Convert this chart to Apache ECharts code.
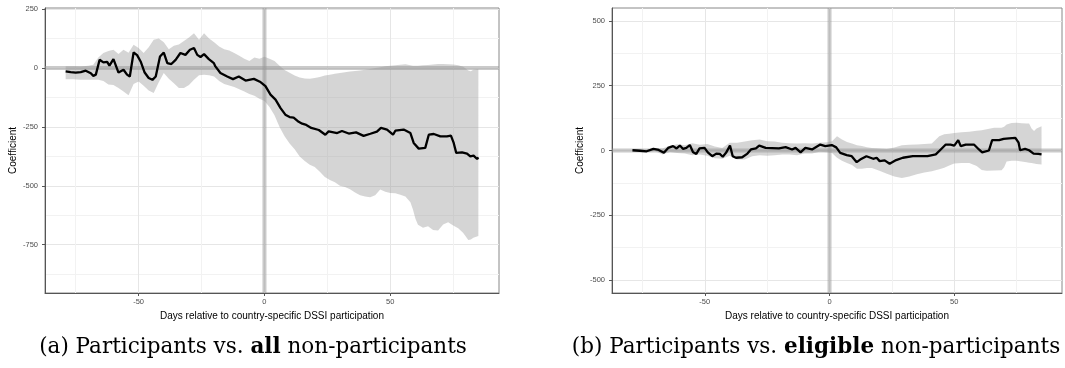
<!DOCTYPE html>
<html>
<head>
<meta charset="utf-8">
<script src="https://cdn.jsdelivr.net/npm/echarts@6/dist/echarts.min.js"></script>
<style>
  html, body { margin: 0; padding: 0; background: #fff; }
  #chart { width: 1065px; height: 368px; }
</style>
</head>
<body>
<div id="chart"></div>
<script>
// panel (a): participants vs all non-participants
const aLineDays = [-79, -77, -75, -73, -71, -69, -68, -67, -65.5, -64, -62.5, -61.6, -60, -58, -56, -54.6, -53.5, -52, -50.6, -49.2, -47.6, -46, -44.5, -43.2, -41.5, -40, -38.6, -37, -35.3, -33.4, -31.4, -29.6, -28, -26.7, -25.4, -24, -22.1, -20.1, -19.5, -17.5, -14.8, -12.5, -10.2, -7.5, -4.2, -1.8, 0.4, 2.4, 4.4, 6.4, 8.3, 10, 11.6, 13.6, 15, 16.3, 18.6, 21.6, 24.2, 25.5, 28.9, 30.8, 33.5, 36.4, 39.4, 42.1, 44.7, 46.3, 48.7, 51.1, 52, 55.3, 58, 59.3, 61.3, 63.9, 65.3, 67.3, 69.9, 72.5, 74.1, 75.2, 76.2, 78.5, 80.5, 81.8, 83.1, 84.5, 85];
const aLineVals = [-14, -17, -19, -17, -11, -22, -33, -28, 35, 24, 26, 10, 38, -19, -7, -28, -36, 66, 55, 28, -19, -42, -50, -36, 49, 66, 21, 17, 35, 64, 56, 78, 85, 56, 47, 59, 38, 21, 7, -21, -36, -47, -36, -53, -46, -58, -77, -113, -134, -170, -198, -208, -210, -228, -236, -240, -254, -263, -283, -269, -276, -267, -278, -273, -288, -279, -270, -254, -261, -283, -266, -261, -276, -318, -342, -339, -283, -280, -290, -290, -287, -318, -360, -358, -363, -375, -372, -386, -379];
const aBandDays = [-79, -76, -73, -70, -68, -66, -64, -62, -60, -58, -56, -54, -52, -50, -48, -46, -44, -42, -40, -38, -36, -34, -32, -30, -28, -26, -24, -22, -20, -18, -16, -14, -12, -10, -8, -6, -4, -2, 0, 2, 4, 6, 8, 10, 12, 14, 16, 18, 20, 22, 24, 26, 28, 30, 32, 34, 36, 38, 40, 42, 44, 46, 48, 50, 52, 54, 56, 58, 59, 60, 61, 63, 65, 67, 69, 71, 73, 75, 77, 79, 81, 82, 83, 85];
const aBandHigh = [8, 8, 7, 10, 14, 45, 64, 72, 78, 60, 78, 65, 99, 85, 64, 88, 120, 125, 110, 80, 95, 100, 115, 130, 148, 120, 148, 125, 110, 92, 80, 75, 64, 52, 40, 30, 45, 40, 48, 40, 30, 10, -8, -20, -32, -40, -44, -45, -42, -38, -32, -28, -24, -21, -18, -15, -13, -10, -7, -4, 0, 3, 8, 10, 12, 14, 16, 12, 10, 10, 10, 12, 13, 15, 17, 17, 16, 15, 12, 6, -10, -14, -7, -4];
const aBandLow = [-48, -48, -50, -50, -50, -50, -55, -70, -72, -85, -100, -115, -68, -57, -75, -95, -106, -60, -21, -45, -65, -85, -85, -72, -50, -30, -28, -30, -36, -55, -68, -74, -80, -90, -100, -110, -118, -130, -140, -165, -200, -250, -290, -320, -345, -375, -395, -410, -420, -440, -462, -475, -485, -500, -505, -515, -528, -540, -545, -548, -540, -516, -525, -530, -532, -538, -545, -570, -600, -640, -665, -678, -672, -688, -690, -664, -655, -668, -680, -700, -730, -728, -720, -713];

// panel (b): participants vs eligible non-participants
const bLineDays = [-79, -76, -73.3, -70.6, -68.5, -66.4, -64.7, -62.7, -61.3, -60, -58.7, -57.4, -56, -54.7, -53.4, -52.1, -50.1, -48.8, -47, -45.4, -44, -42.8, -41.5, -39.9, -38.8, -37.5, -35, -32.9, -31.5, -29.5, -28.2, -27, -25.6, -23, -20.3, -17.6, -15, -13.6, -11.6, -9.7, -7, -3.7, -1.7, 0.9, 2.7, 4.3, 6.9, 8.9, 10.9, 12.3, 14.8, 17.5, 18.9, 20.1, 22.1, 24.1, 26.7, 29.4, 33.4, 36.7, 39.3, 42.6, 44.6, 46.6, 48.5, 50, 51.6, 52.6, 54.6, 57.9, 59.9, 61.2, 63.9, 65.2, 68, 69.8, 72, 74.5, 75.8, 76.4, 78.4, 80, 81.8, 83.7, 85];
const bLineVals = [1, -1, -3, 6, 2, -9, 10, 17, 8, 19, 6, 10, 21, -7, -13, 8, 10, -7, -22, -12, -13, -24, -9, 19, -22, -28, -26, -12, 4, 8, 19, 15, 10, 9, 8, 13, 4, 10, -7, 10, 4, 23, 17, 21, 12, -9, -18, -22, -45, -35, -22, -32, -28, -41, -38, -51, -37, -28, -22, -22, -22, -15, 4, 23, 23, 19, 40, 17, 23, 23, 4, -7, 0, 40, 40, 45, 47, 49, 30, 1, 6, 1, -12, -13, -15];
const bBandDays = [-79, -76, -73, -70, -67, -64, -61, -58, -55, -52, -49, -46, -43, -40, -37, -34, -31, -28, -25, -22, -19, -16, -13, -10, -7, -4, -1, 1, 3, 5, 7, 9, 11, 13, 15, 17, 20, 23, 26, 29, 32, 35, 38, 41, 44, 46, 48, 50, 53, 56, 59, 61, 63, 66, 69, 70, 71, 73, 75, 77, 79, 80, 81, 82, 83, 85];
const bBandHigh = [6, 4, 4, 10, 8, 18, 24, 20, 28, 22, 25, 15, 10, 30, 30, 35, 40, 42, 36, 35, 30, 28, 27, 28, 27, 30, 32, 36, 55, 42, 33, 27, 20, 17, 13, 10, 8, 6, 12, 20, 22, 23, 25, 27, 55, 63, 65, 68, 70, 72, 76, 78, 82, 88, 88, 92, 100, 106, 107, 105, 104, 104, 85, 75, 85, 94];
const bBandLow = [-4, -5, -6, -2, -15, -6, -10, -12, -18, -15, -20, -30, -32, -20, -35, -35, -22, -18, -20, -18, -15, -15, -18, -12, -12, -5, -7, -10, -28, -40, -48, -56, -70, -70, -68, -68, -78, -90, -100, -106, -100, -92, -85, -80, -72, -67, -58, -50, -48, -48, -60, -75, -78, -77, -76, -65, -42, -40, -40, -42, -45, -47, -48, -50, -52, -54];

// axes
const xRange = [-87.2, 93.2];
const xMajor = [-50, 0, 50];
const xMinor = [-75, -25, 25, 75];
const aYRange = [-955, 255];
const aYMajor = [-750, -500, -250, 0, 250];
const aYMinor = [-875, -625, -375, -125, 125];
const bYRange = [-550, 550];
const bYMajor = [-500, -250, 0, 250, 500];
const bYMinor = [-375, -125, 125, 375];

const xTitle = 'Days relative to country-specific DSSI participation';
const yTitle = 'Coefficient';

const zip = (xs, ys) => xs.map((x, i) => [x, ys[i]]);

const axisText = { fontFamily: 'Liberation Sans', fontSize: 7.5, color: '#4d4d4d' };
const titleText = { fontFamily: 'Liberation Sans', fontSize: 10, color: '#000' };

function xAxes(gi) {
    return [{
        type: 'value', gridIndex: gi, min: xRange[0], max: xRange[1],
        name: xTitle, nameLocation: 'middle', nameGap: 15, nameTextStyle: titleText,
        axisLine: { onZero: false, lineStyle: { color: '#555', width: 1 } },
        axisTick: { customValues: xMajor, length: 3, lineStyle: { color: '#555' } },
        axisLabel: Object.assign({ customValues: xMajor, margin: 5 }, axisText),
        splitLine: { show: true, lineStyle: { color: '#e6e6e6', width: 1 } }
    }, {
        type: 'value', gridIndex: gi, min: xRange[0], max: xRange[1], position: 'bottom',
        axisLine: { show: false },
        axisTick: { show: false, customValues: xMinor },
        axisLabel: { show: false },
        splitLine: { show: true, lineStyle: { color: '#f2f2f2', width: 1 } }
    }];
}

function yAxes(gi, range, major, minor) {
    return [{
        type: 'value', gridIndex: gi, min: range[0], max: range[1],
        name: yTitle, nameLocation: 'middle', nameGap: 27, nameTextStyle: titleText,
        axisLine: { show: true, onZero: false, lineStyle: { color: '#555', width: 1 } },
        axisTick: { show: true, customValues: major, length: 3, lineStyle: { color: '#555' } },
        axisLabel: Object.assign({ customValues: major, margin: 7 }, axisText),
        splitLine: { show: true, lineStyle: { color: '#e6e6e6', width: 1 } }
    }, {
        type: 'value', gridIndex: gi, min: range[0], max: range[1], position: 'left',
        axisLine: { show: false },
        axisTick: { show: false, customValues: minor },
        axisLabel: { show: false },
        splitLine: { show: true, lineStyle: { color: '#f2f2f2', width: 1 } }
    }];
}

// ribbon: one polygon, upper edge left->right then lower edge right->left
function bandRenderer(days, low, high) {
    return function (params, api) {
        if (params.dataIndex !== 0) return null;
        const pts = [];
        for (let i = 0; i < days.length; i++) pts.push(api.coord([days[i], high[i]]));
        for (let i = days.length - 1; i >= 0; i--) pts.push(api.coord([days[i], low[i]]));
        return {
            type: 'polygon',
            shape: { points: pts },
            style: { fill: 'rgba(150,150,150,0.4)' }
        };
    };
}

function panelSeries(gi, yRange, bandDays, bandLow, bandHigh, lineDays, lineVals) {
    const xi = gi * 2, yi = gi * 2;
    const base = { type: 'line', xAxisIndex: xi, yAxisIndex: yi, symbol: 'none', silent: true };
    const refLine = { color: 'rgba(150,150,150,0.5)', width: 4 };
    return [
        {
            type: 'custom', name: 'band' + gi, xAxisIndex: xi, yAxisIndex: yi, silent: true,
            renderItem: bandRenderer(bandDays, bandLow, bandHigh),
            encode: { x: 0, y: [1, 2] },
            data: bandDays.map((d, i) => [d, bandLow[i], bandHigh[i]])
        },
        Object.assign({}, base, {
            name: 'h' + gi, lineStyle: refLine,
            data: [[xRange[0], 0], [xRange[1], 0]]
        }),
        Object.assign({}, base, {
            name: 'v' + gi, lineStyle: refLine,
            data: [[0, yRange[0]], [0, yRange[1]]]
        }),
        Object.assign({}, base, {
            name: 'coef' + gi, lineStyle: { color: '#000', width: 2.3 },
            data: zip(lineDays, lineVals)
        })
    ];
}

const captionFont = { fontFamily: 'DejaVu Serif', fontSize: 21.5, fill: '#000' };
const captionBold = { fontFamily: 'DejaVu Serif', fontSize: 21.5, fontWeight: 'bold' };

const chart = echarts.init(document.getElementById('chart'), null, { renderer: 'canvas' });
chart.setOption({
    backgroundColor: '#fff',
    animation: false,
    grid: [
        { left: 45, top: 8, width: 454, height: 285, show: true, borderColor: '#888', borderWidth: 1, backgroundColor: 'transparent' },
        { left: 612, top: 8, width: 450, height: 285, show: true, borderColor: '#888', borderWidth: 1, backgroundColor: 'transparent' }
    ],
    xAxis: [].concat(xAxes(0), xAxes(1)),
    yAxis: [].concat(yAxes(0, aYRange, aYMajor, aYMinor), yAxes(1, bYRange, bYMajor, bYMinor)),
    series: [].concat(
        panelSeries(0, aYRange, aBandDays, aBandLow, aBandHigh, aLineDays, aLineVals),
        panelSeries(1, bYRange, bBandDays, bBandLow, bBandHigh, bLineDays, bLineVals)
    ),
    graphic: [
        {
            type: 'text', x: 253, y: 347,
            style: Object.assign({
                text: '(a) Participants vs. {b|all} non-participants',
                textAlign: 'center', textVerticalAlign: 'middle',
                rich: { b: captionBold }
            }, captionFont)
        },
        {
            type: 'text', x: 816, y: 347,
            style: Object.assign({
                text: '(b) Participants vs. {b|eligible} non-participants',
                textAlign: 'center', textVerticalAlign: 'middle',
                rich: { b: captionBold }
            }, captionFont)
        }
    ]
});

window.addEventListener('resize', () => chart.resize());
</script>
</body>
</html>
